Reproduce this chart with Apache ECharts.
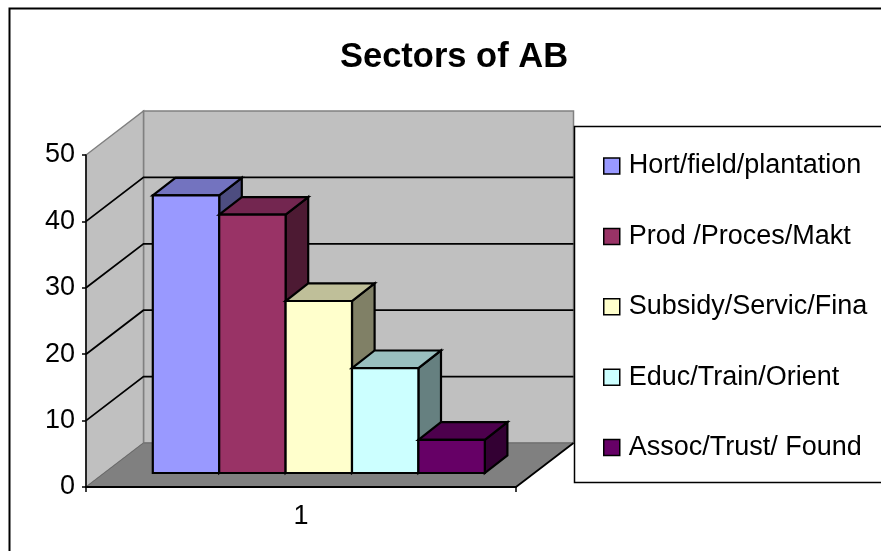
<!DOCTYPE html>
<html>
<head>
<meta charset="utf-8">
<style>html,body{margin:0;padding:0;background:#fff;overflow:hidden}#c{width:881px;height:551px}</style>
<script src="https://cdn.jsdelivr.net/npm/echarts@6/dist/echarts.min.js"></script>
</head>
<body>
<div id="c"></div>
<script>
const titleText = 'Sectors of AB';
const categories = ['1'];
const seriesNames = ['Hort/field/plantation', 'Prod /Proces/Makt', 'Subsidy/Servic/Fina', 'Educ/Train/Orient', 'Assoc/Trust/ Found'];
const seriesValues = [41.8, 38.9, 25.9, 15.8, 5];
const seriesColors = ['#9999FF', '#993366', '#FFFFCC', '#CCFFFF', '#660066'];
const topColors = ['#7373BF', '#732650', '#BFBF99', '#99BFBF', '#4D004D'];
const sideColors = ['#4D4D80', '#4D1A33', '#808066', '#668080', '#330033'];
const gridTicks = [10, 20, 30, 40];
const yMax = 50, yStep = 10;

const WALL_DX = 57.5, WALL_DY = -44;
const BAR_DX = 22.6, BAR_DY = -17.6;
const FLOOR_INSET_X = 17.8, FLOOR_INSET_Y = -14;
const BARS_SHARE = 332 / 430;
const FONT = '"Liberation Sans", Arial, sans-serif';

function renderWalls(params, api) {
  const c = api.coord([0, 0]);
  const t = api.coord([0, yMax]);
  const half = api.size([1, 0])[0] / 2;
  const x0 = c[0] - half, x1 = c[0] + half, y0 = c[1], yT = t[1];
  const poly = (pts, fill, stroke, w) => ({
    type: 'polygon', shape: { points: pts },
    style: { fill: fill, stroke: stroke, lineWidth: w }
  });
  const children = [
    poly([[x0 + WALL_DX, yT + WALL_DY], [x1 + WALL_DX, yT + WALL_DY], [x1 + WALL_DX, y0 + WALL_DY], [x0 + WALL_DX, y0 + WALL_DY]], '#C0C0C0', '#808080', 1.5),
    poly([[x0, y0], [x0 + WALL_DX, y0 + WALL_DY], [x0 + WALL_DX, yT + WALL_DY], [x0, yT]], '#C0C0C0', '#808080', 1.5),
    poly([[x0, y0], [x1, y0], [x1 + WALL_DX, y0 + WALL_DY], [x0 + WALL_DX, y0 + WALL_DY]], '#808080', '#6a6a6a', 1)
  ];
  gridTicks.forEach(v => {
    const y = api.coord([0, v])[1];
    children.push({
      type: 'polyline',
      shape: { points: [[x0, y], [x0 + WALL_DX, y + WALL_DY], [x1 + WALL_DX, y + WALL_DY]] },
      style: { fill: null, stroke: '#000', lineWidth: 1.8 }
    });
  });
  children.push({
    type: 'line',
    shape: { x1: x1, y1: y0, x2: x1 + WALL_DX, y2: y0 + WALL_DY },
    style: { stroke: '#000', lineWidth: 1.8 }
  });
  return { type: 'group', children: children };
}

function renderBar(i) {
  return function (params, api) {
    const base = api.coord([0, 0]);
    const top = api.coord([0, api.value(1)]);
    const band = api.size([1, 0])[0];
    const w = band * BARS_SHARE / seriesNames.length;
    const xL = base[0] + FLOOR_INSET_X + (i - seriesNames.length / 2) * w;
    const xR = xL + w;
    const yB = base[1] + FLOOR_INSET_Y;
    const yT = top[1] + FLOOR_INSET_Y;
    const st = fill => ({ fill: fill, stroke: '#000', lineWidth: 2.2, lineJoin: 'miter' });
    return {
      type: 'group',
      children: [
        { type: 'polygon', shape: { points: [[xR, yT], [xR + BAR_DX, yT + BAR_DY], [xR + BAR_DX, yB + BAR_DY], [xR, yB]] }, style: st(sideColors[i]) },
        { type: 'polygon', shape: { points: [[xL, yT], [xL + BAR_DX, yT + BAR_DY], [xR + BAR_DX, yT + BAR_DY], [xR, yT]] }, style: st(topColors[i]) },
        { type: 'polygon', shape: { points: [[xL, yT], [xR, yT], [xR, yB], [xL, yB]] }, style: st(seriesColors[i]) }
      ]
    };
  };
}

const chart = echarts.init(document.getElementById('c'));
chart.setOption({
  animation: false,
  backgroundColor: '#fff',
  title: {
    text: titleText, left: 449, top: 35, textAlign: 'center',
    textStyle: { fontFamily: FONT, fontWeight: 'bold', fontSize: 34.5, color: '#000' }
  },
  grid: { left: 86, top: 155, width: 430, height: 332 },
  xAxis: {
    type: 'category', data: categories, z: 3,
    axisLine: { lineStyle: { color: '#000', width: 2 } },
    axisTick: { show: true, length: 5, lineStyle: { color: '#000', width: 1.5 } },
    axisLabel: { fontFamily: FONT, fontSize: 27, color: '#000', margin: 16 },
    splitLine: { show: false }
  },
  yAxis: {
    type: 'value', min: 0, max: yMax, interval: yStep, z: 3,
    axisLine: { show: true, lineStyle: { color: '#000', width: 1.5 } },
    axisTick: { show: true, length: 4, lineStyle: { color: '#000', width: 1.5 } },
    axisLabel: { fontFamily: FONT, fontSize: 27, color: '#000', margin: 11 },
    splitLine: { show: false }
  },
  legend: {
    data: seriesNames, orient: 'vertical', left: 603, top: 152.5, z: 6,
    itemWidth: 16, itemHeight: 16, itemGap: 43.4, padding: 0, height: 400, selectedMode: false,
    icon: 'rect',
    itemStyle: { borderColor: '#000', borderWidth: 1.5 },
    textStyle: { fontFamily: FONT, fontSize: 27, color: '#000', padding: [0, 0, 0, 4] }
  },
  graphic: [
    { type: 'rect', silent: true, z: 5, shape: { x: 574.5, y: 126.5, width: 400, height: 356 }, style: { fill: '#fff', stroke: '#000', lineWidth: 1.5 } },
    { type: 'rect', silent: true, z: 7, shape: { x: 9.5, y: 8.5, width: 960, height: 640 }, style: { fill: null, stroke: '#000', lineWidth: 2 } }
  ],
  series: [
    { type: 'custom', name: 'walls', z: 1, silent: true, clip: false, renderItem: renderWalls, data: [[0, 0]] }
  ].concat(seriesNames.map((name, i) => ({
    type: 'custom', name: name, z: 4, clip: false, silent: true,
    itemStyle: { color: seriesColors[i] },
    renderItem: renderBar(i),
    encode: { x: 0, y: 1 },
    data: [[0, seriesValues[i]]]
  })))
});
</script>
</body>
</html>
